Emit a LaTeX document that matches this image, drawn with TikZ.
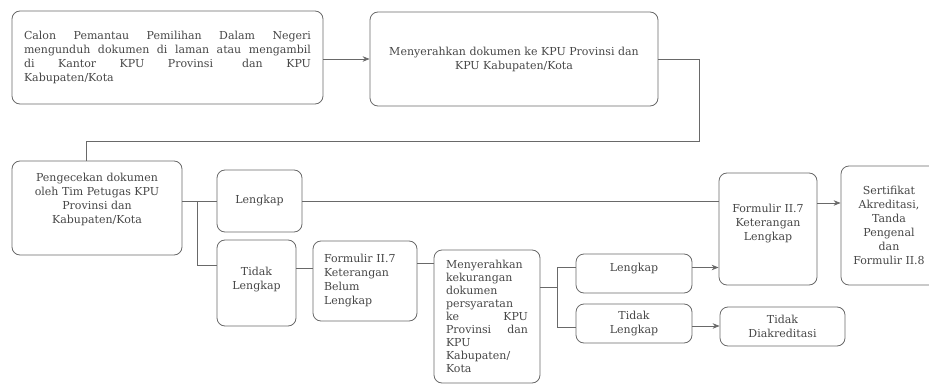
\documentclass[tikz,border=0pt]{standalone}
\usepackage{fontspec}
\setmainfont{DejaVu Serif}
\usetikzlibrary{arrows.meta}
\hyphenpenalty=10000
\exhyphenpenalty=10000
\definecolor{myline}{RGB}{105,105,105}
\definecolor{mytext}{RGB}{70,70,70}

\begin{document}
\begin{tikzpicture}[
		x=1pt, y=-1pt,
		box/.style={rectangle, draw=myline, line width=0.8pt, rounded corners=8pt, text=mytext, align=center, inner sep=2pt, font=\fontsize{11}{14}\selectfont},
		line/.style={draw=myline, line width=0.8pt},
		arrow/.style={line, -{Stealth[length=7pt, width=5.5pt]}}
		]
		\clip (0,0) rectangle (929,385);
		
		% Nodes
		\node[box, minimum width=311, minimum height=93, text width=287, align=justify] (calon) at (167.5,57.5) {Calon Pemantau Pemilihan Dalam Negeri\linebreak mengunduh dokumen di laman atau mengambil\linebreak di Kantor KPU Provinsi\enspace{} dan KPU\linebreak Kabupaten/Kota};
		\node[box, minimum width=288, minimum height=94] (serah) at (514,59) {Menyerahkan dokumen ke KPU Provinsi dan\\KPU Kabupaten/Kota};
		
		\node[box, minimum width=170, minimum height=94, text depth=19pt] (cek) at (97,208) {Pengecekan dokumen\\oleh Tim Petugas KPU\\Provinsi dan\\Kabupaten/Kota};
		\node[box, minimum width=85, minimum height=62] (lengkap1) at (259.5,201) {Lengkap};
		\node[box, minimum width=79, minimum height=86, text depth=10pt] (tidak1) at (256.5,283) {Tidak\\Lengkap};
		\node[box, minimum width=104, minimum height=80, text width=82, align=left] (belum) at (365,281) {Formulir II.7\\Keterangan\\Belum\\Lengkap};
		\node[box, minimum width=106, minimum height=133, text width=82, align=justify, font=\fontsize{11}{13}\selectfont] (kurang) at (487,316.5) {Menyerahkan\\kekurangan\\dokumen\\persyaratan\\ke KPU\linebreak Provinsi dan\linebreak KPU\\Kabupaten/\\Kota};
		
		\node[box, minimum width=116, minimum height=39, text depth=13pt] (lengkap2) at (634,273.5) {Lengkap};
		\node[box, minimum width=116, minimum height=39] (tidak2) at (634,323.5) {Tidak\\Lengkap};
		\node[box, minimum width=98, minimum height=112, text depth=14pt] (formok) at (768,229) {Formulir II.7\\Keterangan\\Lengkap};
		\node[box, minimum width=125, minimum height=39] (akr) at (782.5,326.5) {Tidak\\Diakreditasi};
		\node[box, minimum width=96, minimum height=119] (sertif) at (889,225.5) {Sertifikat\\Akreditasi,\\Tanda\\Pengenal\\dan\\Formulir II.8};
		
		% Helper points
		\coordinate (turn) at (699,141);
		\path (cek.east |- lengkap1) ++(15,0) coordinate (split1);
		\path ([yshift=15pt]tidak1.east) coordinate (t1out);
		\path ([yshift=18pt]belum.east) coordinate (bout);
		\path ([yshift=29pt]kurang.east) coordinate (kout);
		\path (kout) ++(17,0) coordinate (split2);
		\path ([yshift=6pt]lengkap2.east) coordinate (l2out);
		\path ([yshift=26pt]formok.east) coordinate (fout);
		\path ([yshift=-2.5pt]tidak2.east) coordinate (t2out);
		
		% Arrows
		\draw[arrow] (calon.east |- serah) -- (serah.west);
		\draw[line] (serah.east) -| (turn) -| ([xshift=-11pt]cek.north);
		\draw[line] (cek.east |- lengkap1) -- (lengkap1.west);
		\draw[line] (split1) |- ([yshift=18pt]tidak1.west);
		\draw[line] (lengkap1.east) -- (lengkap1.east -| formok.west);
		\draw[line] (t1out) -- (t1out -| belum.west);
		\draw[line] (bout) -- (bout -| kurang.west);
		\draw[line] (kout) -- (split2);
		\draw[line] (split2) |- ([yshift=6.5pt]lengkap2.west);
		\draw[line] (split2) |- ([yshift=-3.5pt]tidak2.west);
		\draw[arrow] (l2out) -- (l2out -| formok.west);
		\draw[arrow] (fout) -- (fout -| sertif.west);
		\draw[arrow] (t2out) -- (t2out -| akr.west);
		
	\end{tikzpicture}
\end{document}
